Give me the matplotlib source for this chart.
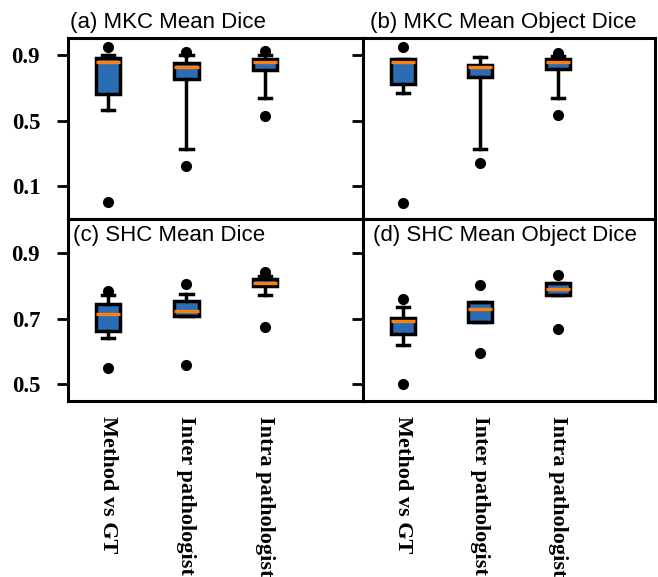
import matplotlib
matplotlib.use("Agg")
import matplotlib.pyplot as plt

categories = ["Method vs GT", "Inter pathologist", "Intra pathologist"]
titles = ["(a) MKC Mean Dice", "(b) MKC Mean Object Dice",
          "(c) SHC Mean Dice", "(d) SHC Mean Object Dice"]

# (a) MKC mean Dice
a_med = [0.860, 0.829, 0.855]
a_q1 = [0.662, 0.753, 0.808]
a_q3 = [0.882, 0.849, 0.874]
a_lo = [0.564, 0.330, 0.636]
a_hi = [0.900, 0.900, 0.900]
a_fliers = [[0.951, 0.002], [0.918, 0.224], [0.924, 0.529]]

# (b) MKC mean object Dice
b_med = [0.859, 0.825, 0.857]
b_q1 = [0.723, 0.767, 0.812]
b_q3 = [0.878, 0.839, 0.874]
b_lo = [0.666, 0.330, 0.636]
b_hi = [0.878, 0.890, 0.895]
b_fliers = [[0.951, 0.0], [0.239], [0.912, 0.534]]

# (c) SHC mean Dice
c_med = [0.715, 0.722, 0.810]
c_q1 = [0.661, 0.707, 0.800]
c_q3 = [0.744, 0.754, 0.821]
c_lo = [0.640, 0.707, 0.773]
c_hi = [0.773, 0.776, 0.832]
c_fliers = [[0.785, 0.549], [0.806, 0.558], [0.844, 0.676]]

# (d) SHC mean object Dice
d_med = [0.693, 0.730, 0.790]
d_q1 = [0.654, 0.691, 0.773]
d_q3 = [0.701, 0.752, 0.810]
d_lo = [0.618, 0.691, 0.773]
d_hi = [0.735, 0.752, 0.810]
d_fliers = [[0.760, 0.501], [0.803, 0.595], [0.834, 0.669]]

top_ticks = [0.1, 0.5, 0.9]
bottom_ticks = [0.5, 0.7, 0.9]

panels = [
    (a_med, a_q1, a_q3, a_lo, a_hi, a_fliers),
    (b_med, b_q1, b_q3, b_lo, b_hi, b_fliers),
    (c_med, c_q1, c_q3, c_lo, c_hi, c_fliers),
    (d_med, d_q1, d_q3, d_lo, d_hi, d_fliers),
]

BLUE = "#2a6db5"
ORANGE = "#ff7f0e"
LW = 2.5

fig = plt.figure(figsize=(6.58, 5.77), dpi=100)
W, H = 658, 577
rects = [
    (68, 38, 295, 181),
    (363, 38, 292, 181),
    (68, 219, 295, 182),
    (363, 219, 292, 182),
]

ytick_font = dict(family="Liberation Serif", weight="bold", size=16.5)
xtick_font = dict(family="Liberation Serif", weight="bold", size=16)

for i, (rect, data, title) in enumerate(zip(rects, panels, titles)):
    x, y, w, h = rect
    ax = fig.add_axes([x / W, 1 - (y + h) / H, w / W, h / H])
    med, q1, q3, lo, hi, fl = data
    stats = [dict(med=med[k], q1=q1[k], q3=q3[k], whislo=lo[k],
                  whishi=hi[k], fliers=fl[k]) for k in range(3)]
    ax.bxp(stats, positions=[1, 2, 3], widths=0.31, patch_artist=True,
           boxprops=dict(facecolor=BLUE, edgecolor="black", linewidth=LW),
           medianprops=dict(color=ORANGE, linewidth=2.4),
           whiskerprops=dict(color="black", linewidth=LW),
           capprops=dict(color="black", linewidth=LW),
           flierprops=dict(marker="o", markerfacecolor="black",
                           markeredgecolor="black", markersize=7))
    ax.set_xlim(0.49, 4.25)
    top = i < 2
    if top:
        ax.set_ylim(-0.10, 1.004)
        ax.set_yticks(top_ticks)
    else:
        ax.set_ylim(0.448, 1.005)
        ax.set_yticks(bottom_ticks)
    ax.tick_params(axis="y", direction="out", length=8, width=2, pad=12)
    ax.tick_params(axis="x", length=0, pad=11)
    if i % 2 == 0:
        ax.set_yticklabels([f"{t:.1f}" for t in ax.get_yticks()], fontdict=ytick_font)
    else:
        ax.set_yticklabels([])
    if top:
        ax.set_xticks([])
    else:
        ax.set_xticks([1, 2, 3])
        ax.set_xticklabels(categories, rotation=270, va="top", ha="center",
                           fontdict=xtick_font)
    for s in ax.spines.values():
        s.set_linewidth(2.2)
    tx = 0.008 if i % 2 == 0 else 0.024
    if top:
        ax.text(tx, 1.03, title, transform=ax.transAxes, ha="left", va="bottom",
                fontsize=16, family="Liberation Sans")
    else:
        ax.text(tx + 0.01, 0.91, title, transform=ax.transAxes, ha="left",
                va="center", fontsize=16, family="Liberation Sans")

fig.savefig("out.png", dpi=100)
